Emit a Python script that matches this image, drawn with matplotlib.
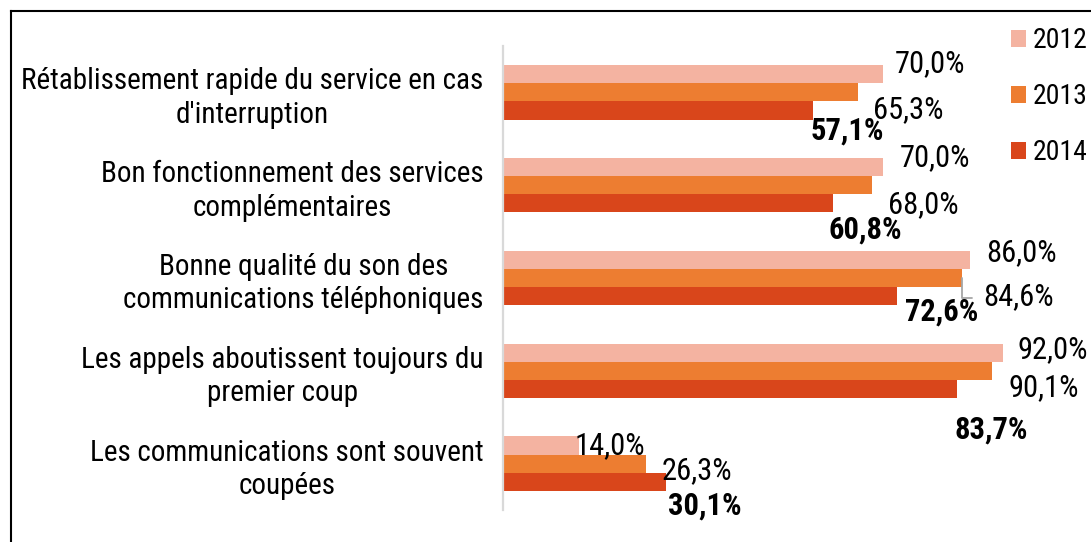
import matplotlib
matplotlib.use("Agg")
import matplotlib.pyplot as plt
from matplotlib import font_manager
from matplotlib.lines import Line2D
import numpy as np

# ---- data -------------------------------------------------------------
categories = [
    "Rétablissement rapide du service en cas\nd'interruption",
    "Bon fonctionnement des services\ncomplémentaires",
    "Bonne qualité du son des\ncommunications téléphoniques",
    "Les appels aboutissent toujours du\npremier coup",
    "Les communications sont souvent\ncoupées",
]
years = ["2012", "2013", "2014"]
values_2012 = [70.0, 70.0, 86.0, 92.0, 14.0]
values_2013 = [65.3, 68.0, 84.6, 90.1, 26.3]
values_2014 = [57.1, 60.8, 72.6, 83.7, 30.1]

# ---- style ------------------------------------------------------------
colors = ["#F4B3A1", "#ED7D31", "#D9461B"]
available = {f.name for f in font_manager.fontManager.ttflist}
family = next((f for f in ["Liberation Sans Narrow", "Arial Narrow",
                           "Roboto Condensed", "Liberation Sans"]
               if f in available), "DejaVu Sans")
plt.rcParams["font.family"] = [family, "DejaVu Sans"]
FS = 22
FS_CAT = 21
FS_LEG = 20

# label offsets in pixels (dx to the right of bar end, dy downwards from bar centre)
label_offsets = [
    [(12, -14), (15, 14), (-2, 17)],
    [(17, -12), (16, 16), (-5, 24)],
    [(16, -10), (21, 16), (8, 13)],
    [(15, -6), (16, 14), (-3, 38)],
    [(-4, -3), (16, 4), (2, 21)],
]

W, H = 1091, 542
fig = plt.figure(figsize=(W / 100, H / 100), dpi=100)
ax = fig.add_axes([503 / W, (H - 510) / H, 543 / W, 464 / H])

series = [values_2012, values_2013, values_2014]
y = np.arange(len(categories))
bar_h = 0.196
offsets = [-bar_h, 0.0, bar_h]
for s, (vals, col, off) in enumerate(zip(series, colors, offsets)):
    ax.barh(y + off, vals, height=bar_h, color=col, linewidth=0, label=years[s])

ax.set_xlim(0, 100)
ax.set_ylim(len(categories) - 0.5, -0.5)
ax.set_yticks(y)
ax.set_yticklabels(categories, fontsize=FS_CAT, multialignment="center",
                   linespacing=1.25)
ax.tick_params(axis="y", length=0, pad=14)
ax.set_xticks([])
for side in ["top", "right", "bottom"]:
    ax.spines[side].set_visible(False)
ax.spines["left"].set_color("#D9D9D9")
ax.spines["left"].set_linewidth(1.6)

half_cap = 11.5
for i in range(len(categories)):
    for s in range(3):
        v = series[s][i]
        dx, dy = label_offsets[i][s]
        txt = f"{v:.1f}%".replace(".", ",")
        kw = dict(xy=(v, y[i] + offsets[s]), xytext=(dx, -(dy + half_cap)),
                  textcoords="offset pixels", ha="left", va="baseline",
                  fontsize=FS, color="black",
                  fontweight="bold" if s == 2 else "normal")
        if i == 2 and s == 1:
            kw["arrowprops"] = dict(arrowstyle="-", color="#A6A6A6", lw=1.3,
                                    connectionstyle="angle,angleA=0,angleB=90",
                                    relpos=(0, 0.45), shrinkA=6, shrinkB=0)
        ax.annotate(txt, **kw)

leg = fig.legend(loc="upper left", bbox_to_anchor=(1011 / W, 1 - 27 / H),
                 frameon=False, fontsize=FS_LEG, handlelength=0.55,
                 handleheight=0.55, handletextpad=0.25, labelspacing=1.05,
                 borderaxespad=0, borderpad=0)

# frame lines along the left and top edges
fig.add_artist(Line2D([10.5 / W, 10.5 / W], [0, 1 - 11 / H], color="black",
                      lw=1.5, transform=fig.transFigure))
fig.add_artist(Line2D([10.5 / W, 1], [1 - 11 / H, 1 - 11 / H], color="black",
                      lw=1.5, transform=fig.transFigure))

fig.savefig("out.png", dpi=100, facecolor="white")
